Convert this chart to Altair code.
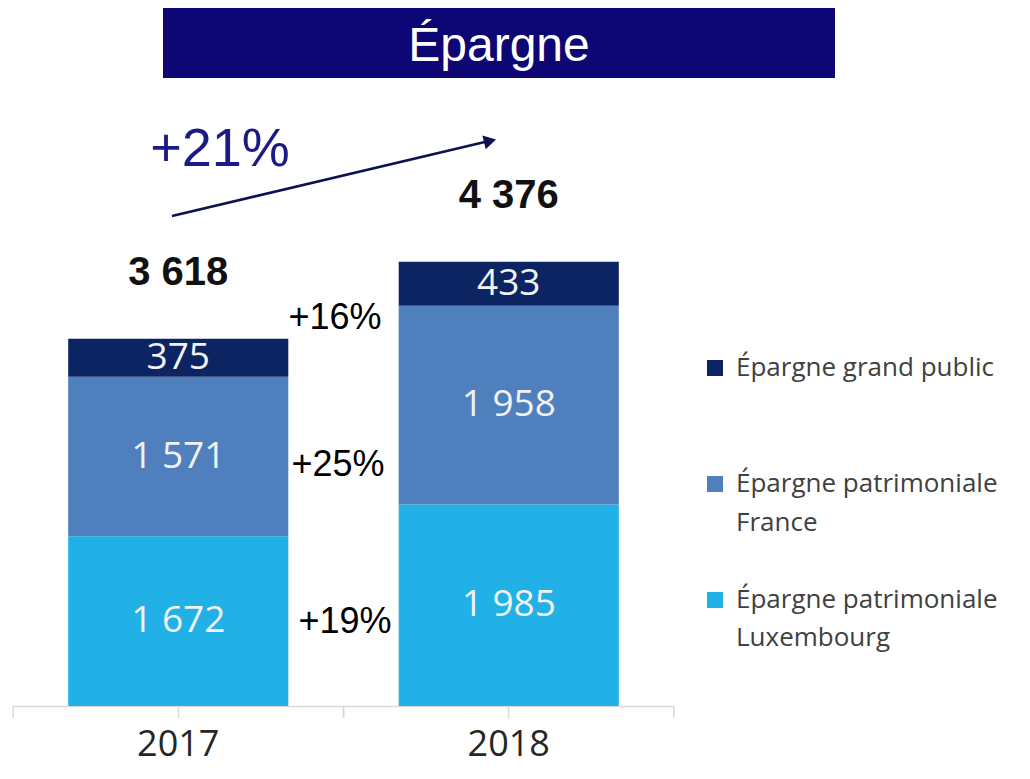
import altair as alt
import pandas as pd

# ---- data ----
years = ["2017", "2018"]
series = ["Épargne patrimoniale Luxembourg", "Épargne patrimoniale France", "Épargne grand public"]
lux = [1672, 1985]
fra = [1571, 1958]
gp = [375, 433]
totals = [3618, 4376]
growth_series = ["+19%", "+25%", "+16%"]   # Luxembourg, France, grand public
growth_total = "+21%"
colors = ["#21b1e6", "#4f7fbd", "#0c2461"]
legend_lines = [["Épargne grand public"], ["Épargne patrimoniale", "France"], ["Épargne patrimoniale", "Luxembourg"]]
title_text = "Épargne"


def fmt(v):
    return f"{v:,}".replace(",", " ")


rows = []
for i, y in enumerate(years):
    base = 0
    for k, (s, vals) in enumerate(zip(series, [lux, fra, gp])):
        v = vals[i]
        rows.append({"year": y, "series": s, "order": k, "value": v,
                     "y0": base, "y1": base + v, "mid": base + v / 2, "label": fmt(v)})
        base += v
df = pd.DataFrame(rows)
tot = pd.DataFrame({"year": years, "total": totals, "label": [fmt(t) for t in totals]})
yr = pd.DataFrame({"year": years})

# ---- layout ----
W, H = 1014, 698
YMAX = 6877
GAP = 55  # half of the gap between bars, in px

xs = alt.Scale(domain=years, range=[5, 666], paddingInner=0.334, paddingOuter=0.167)
ys = alt.Scale(domain=[0, YMAX], nice=False, zero=True)
cs = alt.Scale(domain=series, range=colors)

bars = alt.Chart(df).mark_bar().encode(
    x=alt.X("year:N", scale=xs, axis=alt.Axis(
        title=None, domainColor="#d9d9d9", domainWidth=1.5, tickColor="#d9d9d9",
        tickWidth=1.5, tickSize=12, labelFont="Open Sans",
        labelFontSize=36, labelColor="#262626", labelPadding=9, labelAngle=0, grid=False)),
    y=alt.Y("y0:Q", scale=ys, axis=None),
    y2="y1:Q",
    color=alt.Color("series:N", scale=cs, legend=None),
)

edge_left = alt.Chart(yr).mark_rule(color="#d9d9d9", strokeWidth=1.5, xOffset=-GAP).encode(
    x=alt.X("year:N", scale=xs, bandPosition=0),
    y=alt.value(H), y2=alt.value(H + 12))
edge_right = alt.Chart(yr).mark_rule(color="#d9d9d9", strokeWidth=1.5, xOffset=GAP).encode(
    x=alt.X("year:N", scale=xs, bandPosition=1),
    y=alt.value(H), y2=alt.value(H + 12))

seg_labels = alt.Chart(df).mark_text(
    font="Open Sans", fontSize=37, color="#f2f2f2", baseline="middle").encode(
    x=alt.X("year:N", scale=xs, bandPosition=0.5),
    y=alt.Y("mid:Q", scale=ys), text="label:N")

tot_labels = alt.Chart(tot).mark_text(
    font="Liberation Sans", fontWeight="bold", fontSize=40, color="#111111",
    baseline="middle", dy=-66).encode(
    x=alt.X("year:N", scale=xs, bandPosition=0.5),
    y=alt.Y("total:Q", scale=ys), text="label:N")

one = pd.DataFrame({"a": [0]})

banner = alt.Chart(one).mark_rect(color="#0d0675").encode(
    x=alt.value(155), x2=alt.value(827), y=alt.value(0), y2=alt.value(70))
banner_text = alt.Chart(one).mark_text(
    font="Liberation Sans", fontSize=48, color="white", baseline="middle").encode(
    x=alt.value(491), y=alt.value(39), text=alt.value(title_text))

arrow = alt.Chart(one).mark_rule(color="#0d1150", strokeWidth=2.5).encode(
    x=alt.value(164), y=alt.value(208), x2=alt.value(481), y2=alt.value(133))
arrow_head = alt.Chart(one).mark_point(
    shape="triangle-right", filled=True, size=200, angle=346.5, color="#0d1150", opacity=1).encode(
    x=alt.value(482), y=alt.value(133))
growth_tot = alt.Chart(one).mark_text(
    font="Liberation Sans", fontSize=54, color="#1b1a86", baseline="middle").encode(
    x=alt.value(212), y=alt.value(142), text=alt.value(growth_total))

pct_pos = [(337, 614), (330, 457), (327, 310)]
pct_layers = [
    alt.Chart(one).mark_text(font="Liberation Sans", fontSize=36, color="#000000",
                             baseline="middle").encode(
        x=alt.value(px), y=alt.value(py), text=alt.value(t))
    for (px, py), t in zip(pct_pos, growth_series)
]

# manual legend (order: top to bottom = grand public, France, Luxembourg)
leg_y = [[360], [476, 515], [592, 630]]
leg_colors = [colors[2], colors[1], colors[0]]
leg_layers = []
for lines, ypos, col in zip(legend_lines, leg_y, leg_colors):
    leg_layers.append(alt.Chart(one).mark_square(size=256, color=col, opacity=1).encode(
        x=alt.value(707), y=alt.value(ypos[0])))
    for ln, yy in zip(lines, ypos):
        leg_layers.append(alt.Chart(one).mark_text(
            font="Open Sans", fontSize=26, color="#404040", align="left", baseline="middle").encode(
            x=alt.value(728), y=alt.value(yy), text=alt.value(ln)))

chart = alt.layer(
    bars, edge_left, edge_right, seg_labels, tot_labels, banner, banner_text,
    arrow, arrow_head, growth_tot, *pct_layers, *leg_layers
).properties(
    width=W, height=H,
    autosize=alt.AutoSizeParams(type="none"),
    padding={"left": 0, "top": 0, "right": 0, "bottom": 64},
).configure(background="white").configure_view(stroke=None, strokeWidth=0)

chart.save("out.html", embed_options={"renderer": "svg", "actions": False})
